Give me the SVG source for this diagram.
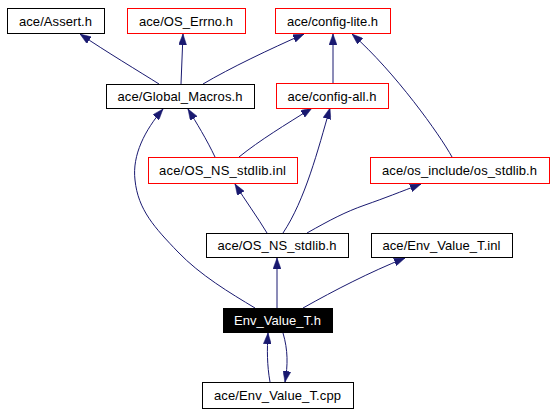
<svg xmlns="http://www.w3.org/2000/svg" width="555" height="413" viewBox="0 0 555 413">
<defs>
<style>
.n rect{fill:#ffffff;stroke:#000000;stroke-width:1}
.n.r rect{stroke:#ff0000}
.n.s rect{fill:#000000}
.n text{font-family:"Liberation Sans",Arial,sans-serif;font-size:13px;text-anchor:middle;fill:#000000}
.n.s text{fill:#ffffff}
.e path{fill:none;stroke:#191970;stroke-width:1;marker-end:url(#a)}
</style>
<marker id="a" markerUnits="userSpaceOnUse" markerWidth="11" markerHeight="8" refX="11" refY="4" orient="auto"><path d="M0,0 L11,4 L0,8 z" fill="#191970" stroke="#191970" stroke-width="0.5"/></marker>
</defs>
<rect width="555" height="413" fill="#ffffff"/>
<g id="edges" class="e">
<path d="M159,84 C140,72 105,51 80,34"/>
<path d="M181,84 L183,34"/>
<path d="M203,84 C230,68 270,49 304,34"/>
<path d="M333,83 L333,34"/>
<path d="M452,157 C440,135 395,72 352,34"/>
<path d="M215,157 C207,140 196,122 188,109"/>
<path d="M239,157 C260,140 285,125 312,108"/>
<path d="M255,308 C230,293 200,275 178,252 C155,228 138,210 135,180 C132,155 145,130 163,109"/>
<path d="M267,233 C258,218 245,200 235,184"/>
<path d="M283,233 C305,200 318,150 330,108"/>
<path d="M307,233 C330,220 345,212 365,205 C385,198 400,192 421,184"/>
<path d="M277,308 L277,258"/>
<path d="M303,308 C335,290 370,272 405,258"/>
<path d="M270,382 C267,365 267,350 268,333"/>
<path d="M283,333 C288,350 288,365 285,382"/>
</g>
<g id="n_assert" class="n"><rect x="7.5" y="8.5" width="97" height="25"/><text x="55.5" y="25.5" textLength="73">ace/Assert.h</text></g>
<g id="n_errno" class="n r"><rect x="127.5" y="8.5" width="118" height="25"/><text x="186" y="25.5" textLength="94">ace/OS_Errno.h</text></g>
<g id="n_configlite" class="n r"><rect x="275.5" y="8.5" width="115" height="25"/><text x="332.5" y="25.5" textLength="91">ace/config-lite.h</text></g>
<g id="n_globalmacros" class="n"><rect x="106.5" y="84.5" width="148" height="24"/><text x="180" y="101" textLength="125">ace/Global_Macros.h</text></g>
<g id="n_configall" class="n r"><rect x="276.5" y="83.5" width="112" height="25"/><text x="332" y="100.5" textLength="89">ace/config-all.h</text></g>
<g id="n_osnsinl" class="n r"><rect x="148.5" y="157.5" width="149" height="26"/><text x="222.5" y="175" textLength="127">ace/OS_NS_stdlib.inl</text></g>
<g id="n_osstdlib" class="n r"><rect x="370.5" y="157.5" width="179" height="26"/><text x="459.5" y="175" textLength="155">ace/os_include/os_stdlib.h</text></g>
<g id="n_osnsh" class="n"><rect x="206.5" y="233.5" width="142" height="24"/><text x="277" y="250" textLength="119">ace/OS_NS_stdlib.h</text></g>
<g id="n_envinl" class="n"><rect x="371.5" y="233.5" width="141" height="24"/><text x="441.5" y="250" textLength="118">ace/Env_Value_T.inl</text></g>
<g id="n_envh" class="n s"><rect x="223.5" y="308.5" width="109" height="24"/><text x="277.5" y="325" textLength="87">Env_Value_T.h</text></g>
<g id="n_envcpp" class="n"><rect x="202.5" y="382.5" width="151" height="26"/><text x="277.5" y="400" textLength="127">ace/Env_Value_T.cpp</text></g>
</svg>
